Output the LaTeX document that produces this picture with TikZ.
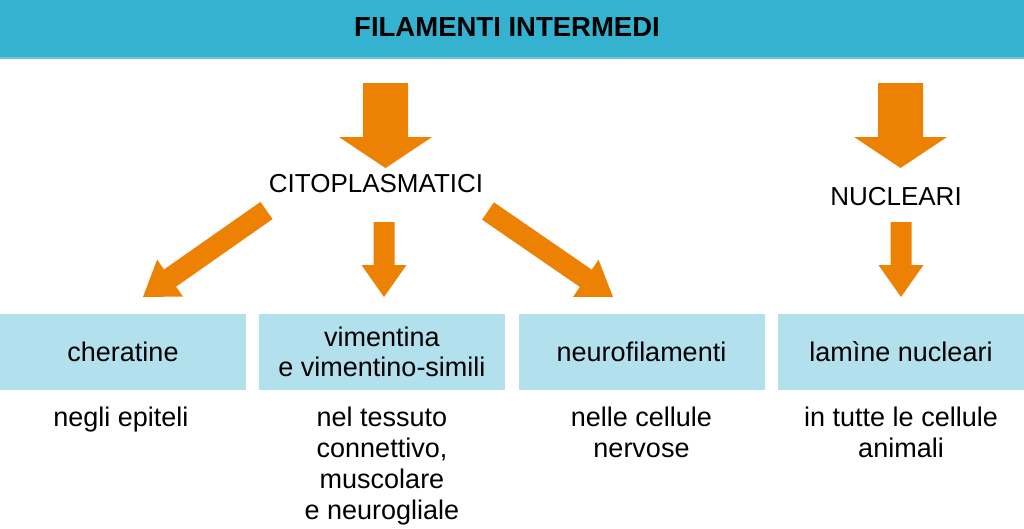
\documentclass[tikz,border=0pt]{standalone}
\usepackage{fontspec}
\setmainfont{Liberation Sans}
\usetikzlibrary{calc}
\definecolor{bandblue}{RGB}{52,178,208}
\definecolor{bandline}{RGB}{110,196,216}
\definecolor{boxblue}{RGB}{178,224,236}
\definecolor{arroworange}{RGB}{236,129,4}
\newcommand\fatarrow[5]{%
  \coordinate (#1-#2-h) at ($(#2)!#5!(#1)$);
  \fill[arroworange] ($(#1)!#3!90:(#2)$) -- ($(#1-#2-h)!#3!90:(#2)$) -- ($(#1-#2-h)!#4!90:(#2)$) -- (#2)
    -- ($(#1-#2-h)!#4!-90:(#2)$) -- ($(#1-#2-h)!#3!-90:(#2)$) -- ($(#1)!#3!-90:(#2)$) -- cycle;}
\tikzset{
  band/.style={fill=bandblue, minimum width=1024pt, minimum height=58pt, inner sep=0pt, outer sep=0pt},
  titletext/.style={inner sep=0pt, font=\fontsize{27.5}{30}\selectfont\bfseries},
  label/.style={inner sep=0pt, font=\fontsize{26}{30}\selectfont},
  lbox/.style={fill=boxblue, minimum width=246pt, minimum height=76pt, inner sep=0pt, align=center, font=\fontsize{27}{30}\selectfont},
  desc/.style={inner sep=0pt, anchor=north, align=center, font=\fontsize{27}{31}\selectfont},
}
\begin{document}
\begin{tikzpicture}[x=1pt,y=-1pt]
\useasboundingbox (0,0) rectangle (1024,528);
\node[band] (hdr) at (512,29) {};
\draw[bandline, line width=1.5pt] (hdr.south west) -- (hdr.south east);
\node[titletext] (title) at (507,27.5) {FILAMENTI INTERMEDI};
\node[label] (cito) at (376,184) {CITOPLASMATICI};
\node[label] (nucl) at (896,196.5) {NUCLEARI};
\node[lbox] (b1) at (123,352) {cheratine};
\node[lbox] (b2) at (382,352) {vimentina\\e vimentino-simili};
\node[lbox] (b3) at (641.5,352) {neurofilamenti};
\node[lbox] (b4) at (901,352) {lamìne nucleari};
\node[desc] (d1) at (121,407) {negli epiteli};
\node[desc] (d2) at (382,407) {nel tessuto\\connettivo,\\muscolare\\e neurogliale};
\node[desc] (d3) at (641.5,407) {nelle cellule\\nervose};
\node[desc] (d4) at (901,407) {in tutte le cellule\\animali};
% arrow end points
\coordinate (a1s) at (385.5,83);   \coordinate (a1e) at (385.5,168);
\coordinate (a2s) at (900.5,83);   \coordinate (a2e) at (900.5,168);
\coordinate (a3s) at (384,222);    \coordinate (a3e) at (384,297);
\coordinate (a4s) at (901,222);    \coordinate (a4e) at (901,297);
\coordinate (a5s) at (266.5,210.5);\coordinate (a5e) at (143,297);
\coordinate (a6s) at (488,211);    \coordinate (a6e) at (613,297);
\fatarrow{a1s}{a1e}{22.5pt}{46.5pt}{31pt}
\fatarrow{a2s}{a2e}{22.5pt}{46.5pt}{31pt}
\fatarrow{a3s}{a3e}{10.5pt}{22.5pt}{32pt}
\fatarrow{a4s}{a4e}{10.5pt}{22.5pt}{32pt}
\fatarrow{a5s}{a5e}{10.5pt}{22.5pt}{33pt}
\fatarrow{a6s}{a6e}{10.5pt}{22.5pt}{33pt}
\end{tikzpicture}
\end{document}
